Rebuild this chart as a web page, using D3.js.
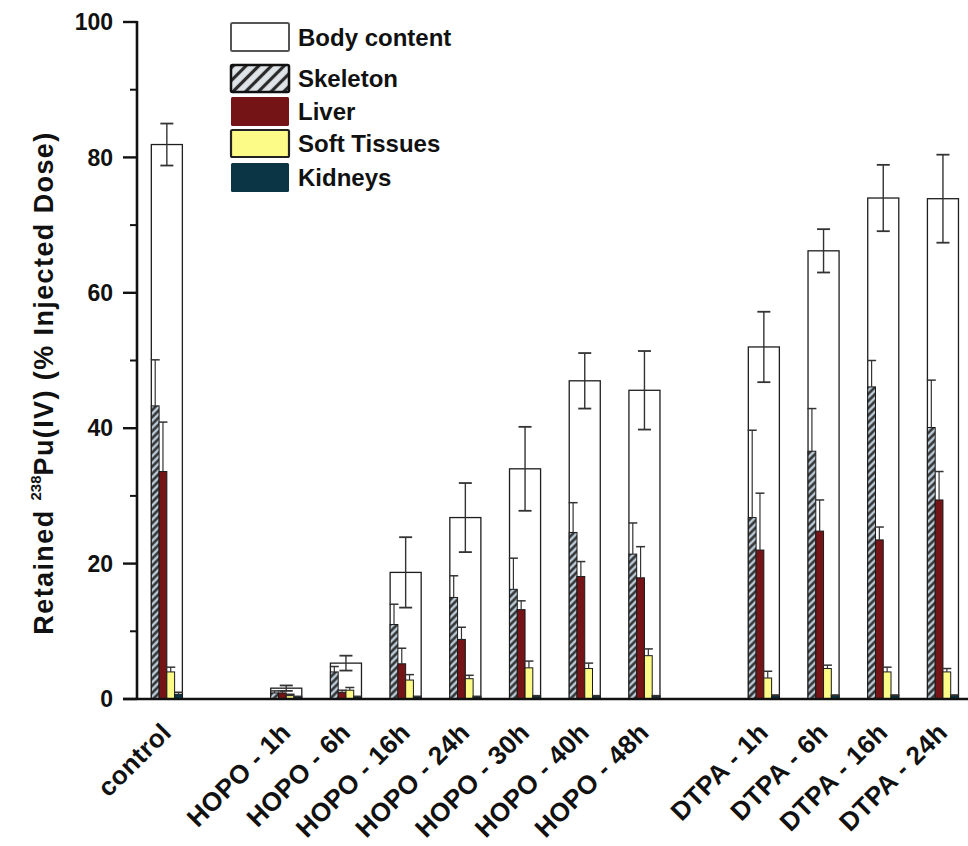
<!DOCTYPE html>
<html>
<head>
<meta charset="utf-8">
<script src="https://cdn.jsdelivr.net/npm/d3@7"></script>
<style>
  html, body { margin: 0; padding: 0; background: #fff; }
  svg { display: block; font-family: "Liberation Sans", Arial, Helvetica, sans-serif; }
</style>
</head>
<body>
<svg id="chart" width="968" height="846"></svg>
<script>
// Groups and their slot positions along the x axis (empty slots separate the treatments)
const categories = ["control", "HOPO - 1h", "HOPO - 6h", "HOPO - 16h", "HOPO - 24h", "HOPO - 30h",
                    "HOPO - 40h", "HOPO - 48h", "DTPA - 1h", "DTPA - 6h", "DTPA - 16h", "DTPA - 24h"];
const slots = [0, 2, 3, 4, 5, 6, 7, 8, 10, 11, 12, 13];

// Retained 238Pu(IV), % of injected dose (mean and error)
const bodyContent    = [81.9, 1.6, 5.3, 18.7, 26.8, 34.0, 47.0, 45.6, 52.0, 66.2, 74.0, 73.9];
const bodyContentErr = [3.1, 0.4, 1.1, 5.2, 5.1, 6.2, 4.1, 5.8, 5.2, 3.2, 4.9, 6.5];
const skeleton       = [43.3, 0.9, 4.0, 11.0, 15.0, 16.2, 24.6, 21.4, 26.8, 36.6, 46.1, 40.1];
const skeletonErr    = [6.8, 0.3, 0.8, 3.0, 3.2, 4.6, 4.4, 4.6, 12.9, 6.3, 3.9, 7.0];
const liver          = [33.6, 0.9, 1.0, 5.2, 8.8, 13.2, 18.1, 17.9, 22.0, 24.8, 23.5, 29.4];
const liverErr       = [7.3, 0.3, 0.3, 2.3, 1.8, 1.3, 2.2, 4.6, 8.4, 4.6, 1.9, 4.2];
const softTissues    = [4.0, 0.5, 1.3, 2.8, 3.0, 4.6, 4.5, 6.4, 3.1, 4.5, 4.0, 4.0];
const softTissuesErr = [0.7, 0.2, 0.4, 0.8, 0.5, 1.0, 0.8, 1.0, 1.0, 0.5, 0.7, 0.5];
const kidneys        = [0.7, 0.3, 0.3, 0.3, 0.3, 0.4, 0.4, 0.4, 0.5, 0.5, 0.5, 0.5];
const kidneysErr     = [0.3, 0.1, 0.1, 0.1, 0.1, 0.1, 0.1, 0.1, 0.1, 0.1, 0.1, 0.1];

const yTicks = [0, 20, 40, 60, 80, 100];
const yMinorTicks = [10, 30, 50, 70, 90];

const legendItems = ["Body content", "Skeleton", "Liver", "Soft Tissues", "Kidneys"];

const colors = {
  liver: "#741416",
  soft: "#fdfb88",
  kidneys: "#0b3444",
  skeletonBg: "#bccbd7",
  stripe: "#2a2a2a"
};

const svg = d3.select("#chart");

const y = d3.scaleLinear().domain([0, 100]).range([699, 22]);
const x = d3.scaleLinear().domain([-0.5, 13.5]).range([137, 972.8]);
const slotW = x(1) - x(0);
const bodyW = slotW * 0.52;
const innerW = bodyW / 4;

// Hatch patterns for the skeleton series
const defs = svg.append("defs");
function hatch(id, size, bg, sw) {
  const p = defs.append("pattern")
    .attr("id", id)
    .attr("patternUnits", "userSpaceOnUse")
    .attr("width", size).attr("height", size)
    .attr("patternTransform", "rotate(45)");
  p.append("rect").attr("width", size).attr("height", size).attr("fill", bg);
  p.append("line").attr("x1", size / 2).attr("x2", size / 2).attr("y1", 0).attr("y2", size)
    .attr("stroke", colors.stripe).attr("stroke-width", sw);
}
hatch("hatchBar", 5, colors.skeletonBg, 2.4);
hatch("hatchLegend", 9, "#dfe4e8", 3.2);

const data = categories.map((c, i) => ({
  name: c,
  slot: slots[i],
  body: bodyContent[i], bodyErr: bodyContentErr[i],
  parts: [
    { key: "skeleton", v: skeleton[i], e: skeletonErr[i], fill: "url(#hatchBar)" },
    { key: "liver", v: liver[i], e: liverErr[i], fill: colors.liver },
    { key: "soft", v: softTissues[i], e: softTissuesErr[i], fill: colors.soft },
    { key: "kidneys", v: kidneys[i], e: kidneysErr[i], fill: colors.kidneys }
  ]
}));

const plot = svg.append("g");

// Body content: wide open bars behind the organ bars
const groups = plot.selectAll("g.grp").data(data).join("g").attr("class", "grp");

groups.append("rect")
  .attr("x", d => x(d.slot) - bodyW / 2)
  .attr("y", d => y(d.body))
  .attr("width", bodyW)
  .attr("height", d => y(0) - y(d.body))
  .attr("fill", "#fff")
  .attr("stroke", "#1e1e1e")
  .attr("stroke-width", 1.3);

// Organ bars side by side inside each body bar
groups.each(function (d) {
  const g = d3.select(this);
  const left = x(d.slot) - bodyW / 2;
  d.parts.forEach((p, j) => {
    const bx = left + j * innerW;
    g.append("rect")
      .attr("x", bx)
      .attr("y", y(p.v))
      .attr("width", innerW)
      .attr("height", y(0) - y(p.v))
      .attr("fill", p.fill)
      .attr("stroke", "#1a1a1a")
      .attr("stroke-width", 1);
    // upward error bar
    const cx = bx + innerW / 2;
    g.append("line")
      .attr("x1", cx).attr("x2", cx)
      .attr("y1", y(p.v)).attr("y2", y(p.v + p.e))
      .attr("stroke", "#333").attr("stroke-width", 1.2);
    g.append("line")
      .attr("x1", cx - 4.5).attr("x2", cx + 4.5)
      .attr("y1", y(p.v + p.e)).attr("y2", y(p.v + p.e))
      .attr("stroke", "#333").attr("stroke-width", 1.5);
  });
  // body content error bar (both directions)
  const cx = x(d.slot);
  const lo = y(d.body - d.bodyErr), hi = y(d.body + d.bodyErr);
  g.append("line").attr("x1", cx).attr("x2", cx).attr("y1", lo).attr("y2", hi)
    .attr("stroke", "#333").attr("stroke-width", 1.4);
  [lo, hi].forEach(yy => g.append("line")
    .attr("x1", cx - 6.5).attr("x2", cx + 6.5).attr("y1", yy).attr("y2", yy)
    .attr("stroke", "#333").attr("stroke-width", 1.8));
});

// Y axis
const yAxis = svg.append("g");
yAxis.append("line").attr("x1", 137).attr("x2", 137).attr("y1", y(100) - 1).attr("y2", y(0))
  .attr("stroke", "#111").attr("stroke-width", 2.6);
yAxis.selectAll("line.major").data(yTicks).join("line").attr("class", "major")
  .attr("x1", 123).attr("x2", 137).attr("y1", d => y(d)).attr("y2", d => y(d))
  .attr("stroke", "#111").attr("stroke-width", 2.4);
yAxis.selectAll("line.minor").data(yMinorTicks).join("line").attr("class", "minor")
  .attr("x1", 130).attr("x2", 137).attr("y1", d => y(d)).attr("y2", d => y(d))
  .attr("stroke", "#111").attr("stroke-width", 2);
yAxis.selectAll("text").data(yTicks).join("text")
  .attr("x", 113).attr("y", d => y(d)).attr("dy", "0.36em")
  .attr("text-anchor", "end")
  .attr("font-size", 23).attr("font-weight", "bold").attr("fill", "#111")
  .text(d => d);

// Y axis title
const yTitle = svg.append("text")
  .attr("transform", "translate(53,383) rotate(-90)")
  .attr("text-anchor", "middle")
  .attr("letter-spacing", 1.4)
  .attr("font-size", 27).attr("font-weight", "bold").attr("fill", "#111");
yTitle.append("tspan").text("Retained ");
yTitle.append("tspan").attr("font-size", 15).attr("letter-spacing", 0).attr("dy", -12).text("238");
yTitle.append("tspan").attr("dy", 12).text("Pu(IV) (% Injected Dose)");

// X axis
svg.append("line").attr("x1", 123).attr("x2", 968).attr("y1", y(0)).attr("y2", y(0))
  .attr("stroke", "#111").attr("stroke-width", 2.6);

svg.selectAll("text.xlab").data(data).join("text").attr("class", "xlab")
  .attr("transform", d => `translate(${x(d.slot) + 6},${734}) rotate(-45)`)
  .attr("text-anchor", "end")
  .attr("letter-spacing", 0.4)
  .attr("font-size", 26).attr("font-weight", "bold").attr("fill", "#111")
  .text(d => d.name);

// Legend
const legend = svg.append("g");
const legendRows = [
  { y: 23, h: 28, fill: "#fff", stroke: "#555", sw: 2 },
  { y: 65, h: 27, fill: "url(#hatchLegend)", stroke: "#111", sw: 2.5 },
  { y: 97, h: 29, fill: colors.liver, stroke: "none", sw: 0 },
  { y: 130, h: 27, fill: colors.soft, stroke: "#222", sw: 2.2 },
  { y: 163, h: 29, fill: colors.kidneys, stroke: "none", sw: 0 }
];
legendRows.forEach((r, i) => {
  legend.append("rect")
    .attr("x", 231).attr("y", r.y).attr("width", 58).attr("height", r.h)
    .attr("rx", 1.5)
    .attr("fill", r.fill).attr("stroke", r.stroke).attr("stroke-width", r.sw);
  legend.append("text")
    .attr("x", 298).attr("y", r.y + r.h / 2).attr("dy", "0.36em")
    .attr("font-size", 24).attr("font-weight", "bold").attr("fill", "#111")
    .text(legendItems[i]);
});
</script>
</body>
</html>
